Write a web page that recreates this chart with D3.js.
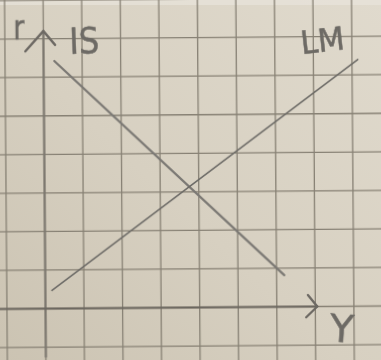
<!DOCTYPE html>
<html>
<head>
<meta charset="utf-8">
<script src="https://cdn.jsdelivr.net/npm/d3@7"></script>
<style>
  html, body { margin: 0; padding: 0; background: #d6cfc1; }
  svg { display: block; }
</style>
</head>
<body>
<script>
// IS-LM diagram sketched on squared paper.
// Units: one grid square = 1 unit of output (Y) or interest rate (r).

const gridCols = [-1, 0, 1, 2, 3, 4, 5, 6, 7, 8, 9];
const gridRows = [-1, 0, 1, 2, 3, 4, 5, 6, 7, 8, 9];

// Curve endpoints: [Y, r]
const isCurve = [[0.28, 6.42], [6.2, 0.82]];
const lmCurve = [[0.17, 0.47], [8.15, 6.4]];

// Axis extents
const yAxisSpan = [-1.25, 7.2];   // vertical axis, in r units
const xAxisSpan = [-1.2, 7.05];   // horizontal axis, in Y units

const curveLabels = [
  { text: "IS", Y: 0.68, r: 6.6, len: 30, size: 36, rot: -2 },
  { text: "LM", Y: 6.7, r: 6.55, len: 44, size: 32, rot: -6 }
];
const axisLabels = [
  { text: "r", Y: -0.78, r: 7.0, len: 11, size: 34, rot: 0 },
  { text: "Y", Y: 7.35, r: -0.9, len: 24, size: 38, rot: 4 }
];

const W = 381, H = 360;
const cell = 38.55;
const originX = 44.5, originY = 307.5;

const x = d3.scaleLinear().domain([0, 1]).range([originX, originX + cell]);
const y = d3.scaleLinear().domain([0, 1]).range([originY, originY - cell]);

const svg = d3.select("body").append("svg")
  .attr("width", W).attr("height", H);

const defs = svg.append("defs");
const paper = defs.append("linearGradient")
  .attr("id", "paper").attr("x1", "100%").attr("y1", "0%")
  .attr("x2", "0%").attr("y2", "100%");
paper.append("stop").attr("offset", "0%").attr("stop-color", "#e0dacd");
paper.append("stop").attr("offset", "55%").attr("stop-color", "#d7d0c1");
paper.append("stop").attr("offset", "100%").attr("stop-color", "#cbc3b2");

defs.append("filter").attr("id", "soft")
  .append("feGaussianBlur").attr("stdDeviation", 0.45);

svg.append("rect").attr("width", W).attr("height", H).attr("fill", "url(#paper)");
svg.append("rect").attr("width", W).attr("height", 5).attr("fill", "#e8e4db").attr("opacity", 0.7);

// The sheet sits slightly askew in the frame
const sheet = svg.append("g")
  .attr("transform", `rotate(-0.45 ${W / 2} ${H / 2})`)
  .attr("filter", "url(#soft)");

// Squared paper
const grid = sheet.append("g")
  .attr("stroke", "#878174").attr("stroke-width", 1.3).attr("fill", "none");
grid.selectAll("line.v").data(gridCols).join("line")
  .attr("class", "v")
  .attr("x1", d => x(d)).attr("x2", d => x(d))
  .attr("y1", -20).attr("y2", H + 20);
grid.selectAll("line.h").data(gridRows).join("line")
  .attr("class", "h")
  .attr("y1", d => y(d)).attr("y2", d => y(d))
  .attr("x1", -20).attr("x2", W + 20);

const pencil = "#6d6a65";
const line = d3.line().x(d => x(d[0])).y(d => y(d[1]));

// Axes
const axes = sheet.append("g").attr("fill", "none").attr("stroke-linecap", "round");
axes.append("path")
  .attr("d", line([[0, yAxisSpan[0]], [0, yAxisSpan[1]]]))
  .attr("stroke", "#7d7870").attr("stroke-width", 2.2);
axes.append("path")
  .attr("d", line([[xAxisSpan[0], 0], [xAxisSpan[1], 0]]))
  .attr("stroke", "#6a665f").attr("stroke-width", 2);

// Arrowheads drawn as two pencil strokes from each axis tip
const yTip = [0, yAxisSpan[1]];
axes.append("path")
  .attr("d", line([[yTip[0] - 0.47, yTip[1] - 0.52], yTip, [yTip[0] + 0.3, yTip[1] - 0.36]]))
  .attr("stroke", "#6d6964").attr("stroke-width", 2.5);
const xTip = [xAxisSpan[1], 0];
axes.append("path")
  .attr("d", line([[xTip[0] - 0.24, xTip[1] + 0.3], xTip, [xTip[0] - 0.29, xTip[1] - 0.28]]))
  .attr("stroke", "#6d6964").attr("stroke-width", 2.3);

// IS and LM curves
sheet.append("path").attr("d", line(isCurve))
  .attr("fill", "none").attr("stroke", "#7c7974").attr("stroke-width", 2.3)
  .attr("stroke-linecap", "round");
sheet.append("path").attr("d", line(lmCurve))
  .attr("fill", "none").attr("stroke", "#6c6a66").attr("stroke-width", 1.6)
  .attr("stroke-linecap", "round");

// Hand-lettered labels
const labels = sheet.append("g")
  .attr("font-family", "'DejaVu Sans', sans-serif")
  .attr("font-weight", 400)
  .attr("fill", pencil)
  .attr("stroke", pencil)
  .attr("stroke-width", 0.5);
labels.selectAll("text").data(curveLabels.concat(axisLabels)).join("text")
  .attr("transform", d => `translate(${x(d.Y)},${y(d.r)}) rotate(${d.rot})`)
  .attr("font-size", d => d.size)
  .attr("textLength", d => d.len)
  .attr("lengthAdjust", "spacingAndGlyphs")
  .text(d => d.text);
</script>
</body>
</html>
